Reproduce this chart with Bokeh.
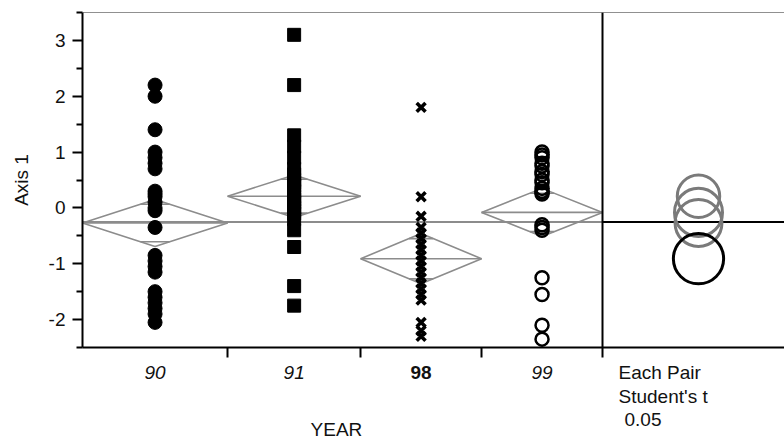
from bokeh.plotting import figure
from bokeh.models import Range1d, Span, FixedTicker
from bokeh.layouts import column
from bokeh.core.properties import value
from bokeh.embed import file_html
from bokeh.resources import INLINE

# ---- data ----
years = ["90", "91", "98", "99"]
year_styles = ["italic", "italic", "bold", "italic"]
group_n = [24, 22, 20, 20]

y90 = [2.2, 2.0, 1.4, 1.0, 0.9, 0.8, 0.7, 0.3, 0.25, 0.2, 0.1, 0.0, -0.05, -0.35,
       -0.85, -0.95, -1.05, -1.15, -1.5, -1.6, -1.7, -1.8, -1.9, -2.05]
y91 = [3.1, 2.2, 1.3, 1.1, 0.9, 0.7, 0.6, 0.5, 0.45, 0.4, 0.3, 0.2, 0.15, 0.1, 0.0,
       -0.05, -0.1, -0.2, -0.4, -0.7, -1.4, -1.75]
y98 = [1.8, 0.2, -0.15, -0.35, -0.45, -0.55, -0.65, -0.75, -0.85, -0.95, -1.05,
       -1.15, -1.25, -1.35, -1.45, -1.55, -1.65, -2.05, -2.2, -2.3]
y99 = [1.0, 0.95, 0.9, 0.8, 0.75, 0.65, 0.6, 0.5, 0.45, 0.35, 0.3, 0.28, 0.25,
       -0.3, -0.35, -0.4, -1.25, -1.55, -2.1, -2.35]

group_means = [-0.27, 0.21, -0.91, -0.08]
ci_half = [0.42, 0.38, 0.45, 0.43]
grand_mean = -0.25
circle_colors = ["#7a7a7a", "#7a7a7a", "#000000", "#7a7a7a"]

y_ticks = [-2, -1, 0, 1, 2, 3]
y_tick_labels = ["-2", "-1", "0", "1", "2", "3"]
y_minor = [-2.5, -1.5, -0.5, 0.5, 1.5, 2.5, 3.5]
y_lo, y_hi = -2.5, 3.5
x_title = "YEAR"
note_lines = ["Each Pair", "Student's t", "0.05"]

# ---- layout constants (pixels) ----
FONT = "Liberation Sans"
FS = "19px"
TXT = "#111111"
W, H = 784, 440
BL, BT = 82, 12
FRAME_H = 335
BB = 14
H1 = BT + FRAME_H + BB
H2 = H - H1
main_px = 520
total_n = sum(group_n)
upx = total_n / main_px
x_end = (W - BL) * upx

p = figure(width=W, height=H1, output_backend="svg", toolbar_location=None,
           x_range=Range1d(0, x_end), y_range=Range1d(y_lo, y_hi),
           min_border_left=BL, min_border_right=0, min_border_top=BT,
           min_border_bottom=BB)
p.outline_line_color = None
p.xgrid.visible = False
p.ygrid.visible = False

bounds = []
acc = 0
for n in group_n:
    bounds.append((acc, acc + n))
    acc += n
centers = [(a + b) / 2 for a, b in bounds]

# ---- axes ----
xa = p.xaxis[0]
xa.ticker = FixedTicker(ticks=[b for _, b in bounds], minor_ticks=[])
xa.major_label_overrides = {b: " " for _, b in bounds}
xa.major_label_text_font_size = "1px"
xa.major_label_standoff = 0
xa.major_tick_out = 10
xa.major_tick_in = 0
xa.major_tick_line_width = 2
xa.axis_line_width = 2
xa.axis_line_color = "black"

ya = p.yaxis[0]
ya.ticker = FixedTicker(ticks=y_ticks, minor_ticks=y_minor)
ya.major_label_overrides = dict(zip(y_ticks, y_tick_labels))
ya.major_tick_out = 10
ya.major_tick_in = 0
ya.minor_tick_out = 6
ya.minor_tick_in = 0
ya.major_tick_line_width = 2
ya.minor_tick_line_width = 2
ya.axis_line_width = 2
ya.axis_line_color = "black"
ya.major_label_text_font = FONT
ya.major_label_text_font_size = FS
ya.major_label_text_color = TXT
ya.major_label_standoff = 7
ya.axis_label = "Axis 1"
ya.axis_label_text_font = FONT
ya.axis_label_text_font_size = FS
ya.axis_label_text_font_style = "normal"
ya.axis_label_text_color = TXT
ya.axis_label_standoff = 14

p.add_layout(Span(location=y_hi, dimension="width", line_color="#222222", line_width=1.2))
p.add_layout(Span(location=total_n, dimension="height", line_color="black", line_width=2))

# ---- grand mean line ----
DIA = "#8c8c8c"
p.line([0, total_n], [grand_mean, grand_mean], line_color=DIA, line_width=2)
p.line([total_n, x_end], [grand_mean, grand_mean], line_color="black", line_width=2)

# ---- means diamonds ----
f_ov = 0.8
for (a, b), c, m, h in zip(bounds, centers, group_means, ci_half):
    p.patch([a, c, b, c, a], [m, m + h, m, m - h, m], fill_color=None,
            line_color=DIA, line_width=1.6)
    p.line([a, b], [m, m], line_color=DIA, line_width=1.6)
    half = (b - a) / 2 * (1 - f_ov)
    for s in (1, -1):
        p.line([c - half, c + half], [m + s * f_ov * h] * 2, line_color=DIA, line_width=1.6)

# ---- points ----
p.scatter([centers[0]] * len(y90), y90, marker="circle", size=14,
          fill_color="black", line_color="black")
p.scatter([centers[1]] * len(y91), y91, marker="square", size=13,
          fill_color="black", line_color="black")
p.scatter([centers[2]] * len(y98), y98, marker="x", size=12.5,
          line_color="black", line_width=3.6)
p.scatter([centers[3]] * len(y99), y99, marker="circle", size=13,
          fill_color=None, line_color="black", line_width=2.5)

# ---- comparison circles ----
cx = total_n + 96 * upx
order = [0, 1, 3, 2]
p.circle(x=[cx] * 4, y=[group_means[i] for i in order],
         radius=[ci_half[i] for i in order], radius_dimension="y",
         fill_color=None, line_color=[circle_colors[i] for i in order], line_width=3)

# ---- text strip under the plot (y = pixels from its top) ----
q = figure(width=W, height=H2, output_backend="svg", toolbar_location=None,
           x_range=p.x_range, y_range=Range1d(H2, 0),
           min_border_left=BL, min_border_right=0, min_border_top=0, min_border_bottom=0)
q.axis.visible = False
q.xgrid.visible = False
q.ygrid.visible = False
q.outline_line_color = None

cat_y = 372 - H1
for c, t, st in zip(centers, years, year_styles):
    q.text(x=[c], y=[cat_y], text=[t], text_align="center", text_baseline="middle",
           text_font=value(FONT), text_font_size=FS, text_font_style=st, text_color=TXT)
q.text(x=[total_n / 2 - 1], y=[429 - H1], text=[x_title], text_align="center",
       text_baseline="middle", text_font=value(FONT), text_font_size=FS, text_color=TXT)
note_indent = [0, 0, 6]
for i, t in enumerate(note_lines):
    q.text(x=[total_n + (16 + note_indent[i]) * upx], y=[372 + 23.5 * i - H1], text=[t],
           text_align="left", text_baseline="middle", text_font=value(FONT),
           text_font_size=FS, text_color=TXT)

open("out.html", "w").write(file_html(column(p, q), INLINE))
